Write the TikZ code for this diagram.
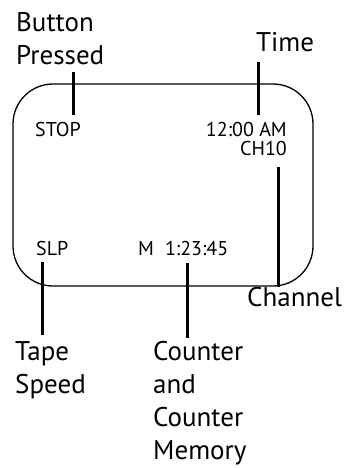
\documentclass[tikz,border=0pt]{standalone}
\usepackage{fontspec}
\setmainfont{PT Sans}
\begin{document}
\begin{tikzpicture}[x=1pt,y=-1pt,
  big/.style={font=\fontsize{27}{33}\selectfont, inner sep=0pt, align=left},
  small/.style={font=\fontsize{20}{24}\selectfont, inner sep=0pt},
  lead/.style={line width=3pt},
  screen/.style={line width=1.3pt, rounded corners=40pt}]
\useasboundingbox (0,0) rectangle (344,468);
\draw[screen] (13,84) rectangle (313,286);
% screen texts
\node[small, anchor=base west] (stop) at (35,136) {STOP};
\node[small, anchor=base east] (clock) at (287,136) {12:00 AM};
\node[small, anchor=base east] (ch) at (287,155) {CH10};
\node[small, anchor=base west] (slp) at (36,255) {SLP};
\node[small, anchor=base west] (ctr) at (138,255) {M\hspace{0.55em}1:23:45};
% labels
\node[big, anchor=north west] (bp) at (16,12) {Button\\Pressed};
\node[big, anchor=north west] (tm) at (256,32) {Time};
\node[big, anchor=north west] (chl) at (247,287) {Channel};
\node[big, anchor=north west] (ts) at (15,341) {Tape\\Speed};
\node[big, anchor=north west] (cc) at (153,341) {Counter\\and\\Counter\\Memory};
% leader lines
\coordinate (bpA) at (73,72);  \coordinate (bpB) at (73,115);
\coordinate (tmA) at (258,62); \coordinate (tmB) at (258,115);
\coordinate (chA) at (278,167); \coordinate (chB) at (278,287);
\coordinate (tsA) at (42,262); \coordinate (tsB) at (42,335);
\coordinate (ccA) at (187,263); \coordinate (ccB) at (187,338);
\draw[lead] (bpA) -- (bpB);
\draw[lead] (tmA) -- (tmB);
\draw[lead] (chA) -- (chB);
\draw[lead] (tsA) -- (tsB);
\draw[lead] (ccA) -- (ccB);
\end{tikzpicture}
\end{document}
